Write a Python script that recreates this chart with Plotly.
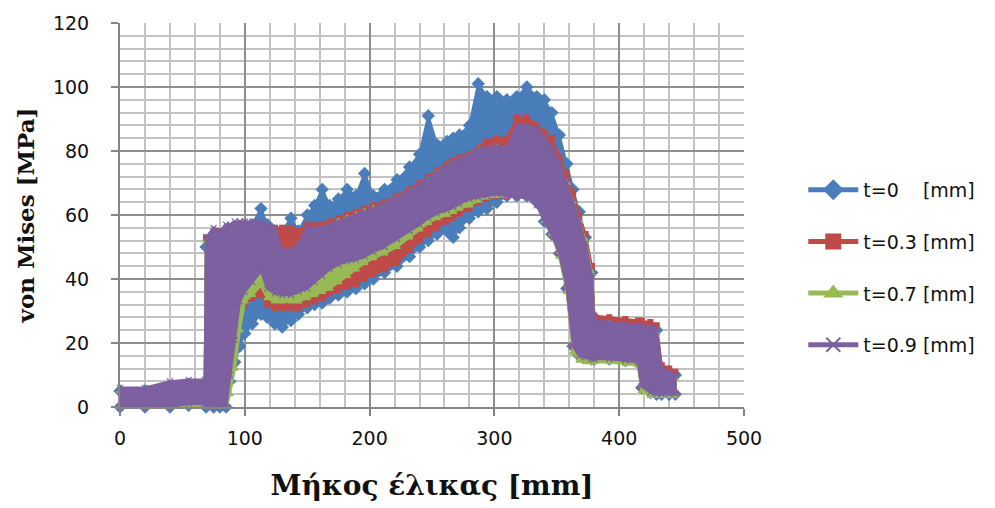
import plotly.graph_objects as go

# Position along the helix [mm] shared by every band outline
X_MM = [0, 20, 40, 55, 68, 69, 75, 80, 85, 88, 92, 96, 100, 106, 113, 118, 124, 130, 137, 143,
        150, 156, 162, 168, 175, 182, 189, 196, 203, 212, 222, 232, 240, 247, 254, 262, 267, 272,
        280, 287, 294, 302, 310, 318, 326, 334, 340, 346, 352, 358, 363, 368, 373, 378, 380, 392,
        405, 415, 418, 425, 430, 434, 440, 445]

# von Mises stress [MPa]: upper and lower envelope of each scatter band
T0_UPPER = [5, 5, 6, 7, 7, 50, 52, 53, 54, 55, 55, 56, 56, 57, 62, 57, 55, 55, 59, 55,
            60, 63, 68, 63, 65, 68, 66, 73, 66, 68, 71, 75, 79, 91, 82, 83, 84, 85,
            88, 101, 97, 97, 96, 97, 100, 97, 96, 92, 85, 76, 68, 61, 53, 42, 28, 27,
            26, 25, 25, 25, 24, 12, 11, 10]
T0_LOWER = [0, 0, 0, 0.5, 0.5, 0, 0, 0, 0, 8, 14, 19, 23, 26, 29, 28, 26, 25, 27, 29,
            31, 32, 32.5, 34, 35, 36, 37, 38.5, 40, 42, 44, 47, 50, 52, 54, 55, 53, 56,
            59, 61, 62, 64, 66, 66, 66, 64, 58, 54, 48, 37, 19, 16, 15.5, 15, 15, 15,
            14.5, 14, 6, 4.5, 4, 4, 4, 4]

T03_UPPER = [5, 5, 6, 7, 7, 53, 55, 55, 56, 56, 57, 57, 57, 57, 57, 56, 56, 56, 56, 55,
             57, 57, 57, 58, 59, 60, 61, 62, 63, 64, 66, 68, 70, 72, 74, 76, 77, 78,
             79, 81, 83, 84, 84, 90.5, 90.5, 88, 86, 84, 78, 73, 67, 60, 54, 44, 28.5, 28,
             27.5, 27, 27, 26.5, 25.5, 13, 12, 11]
T03_LOWER = [0, 0, 0, 0.5, 0.5, -1, -1, -1, -1, 8, 18, 28, 32, 34, 35, 32, 31, 31, 31, 31,
             32, 33, 34, 35.5, 36.5, 37.5, 38.5, 40, 41.5, 43, 45, 49, 52, 54, 56, 58, 59, 60.5,
             62, 64, 65, 66, 66, 66, 66, 64, 58, 54, 48, 37, 19, 16, 15.5, 15, 15, 15,
             14.5, 14, 6, 4.5, 4, 4, 4, 4]

T07_UPPER = [5, 5, 6, 7, 7, 52, 54, 54, 55, 55, 56, 56, 56, 56, 56, 55, 54, 48, 48, 50,
             54, 55, 55, 56, 58, 59, 60, 61, 62, 63, 65, 67, 69, 71, 73, 75, 76, 77,
             78, 80, 80, 81, 80, 86, 86, 85, 83, 79, 75, 70, 64, 58, 52, 42, 26, 26,
             25, 24, 24, 24, 23, 11, 10, 9]
T07_LOWER = [0, 0, 0, 0.5, 0.5, -1, -1, -1, -1, 4, 12, 24, 33, 35, 38, 34, 33, 33, 33, 33,
             34, 35, 36, 37, 39, 41, 43, 45, 46.5, 48, 50, 53, 55.5, 57.5, 59, 60, 61, 62,
             63, 64.5, 65.5, 66, 66, 66, 66, 64, 58, 54, 47, 36, 17, 14.5, 14, 14, 14, 14,
             13.5, 13, 5, 3.5, 3.5, 3.5, 3.5, 3.5]

T09_UPPER = [6, 6, 8, 8.5, 8.5, 53, 56, 55, 57, 57, 58, 58, 58, 58, 58, 57, 56, 49, 49, 51,
             56, 56, 56, 57, 58, 59, 60, 61, 62, 63.5, 65.5, 67.5, 69.5, 71.5, 73.5, 75.5, 76.5, 77.5,
             78.5, 80.5, 81, 81.5, 81, 88, 88, 87, 84.5, 81, 76, 70, 64, 58, 51, 41, 27, 26.5,
             26, 25.5, 25.5, 25, 24.5, 12, 11, 10]
T09_LOWER = [0, 0, 0, 1, 1, 0, 0, 0, 0, 10, 21, 33, 36, 39, 42.5, 37, 35.5, 35, 35, 36,
             37, 39, 41, 43, 44.5, 45.5, 46, 47, 48.5, 50, 52.5, 55, 57, 59, 60.5, 61.5, 62.5, 63.5,
             65, 65.5, 66, 66.5, 66, 65.5, 65.5, 63, 58, 54, 48, 37.5, 19, 16, 15.5, 15, 15, 15,
             14.5, 14, 6.5, 4.5, 4, 4, 4, 4]

LABELS = ["t=0\u00a0\u00a0\u00a0\u00a0[mm]", "t=0.3 [mm]", "t=0.7 [mm]", "t=0.9 [mm]"]
COLORS = ["#4a7ebb", "#be4b48", "#98b954", "#7d60a0"]
SYMBOLS = ["diamond", "square", "triangle-up", "x-thin"]
BAND_MARKER = [9, 5, 6, 6]
BANDS = [(T0_UPPER, T0_LOWER), (T03_UPPER, T03_LOWER),
         (T07_UPPER, T07_LOWER), (T09_UPPER, T09_LOWER)]

fig = go.Figure()

# Filled scatter bands, first series at the bottom
for (upper, lower), color, sym, msize in zip(BANDS, COLORS, SYMBOLS, BAND_MARKER):
    px = X_MM + X_MM[::-1]
    py = upper + lower[::-1]
    fig.add_trace(go.Scatter(
        x=px, y=py, mode="lines+markers", fill="toself", fillcolor=color,
        line=dict(color=color, width=2.5),
        marker=dict(symbol=sym, size=msize, color=color, line=dict(color=color, width=1.2)),
        cliponaxis=False, showlegend=False, hoverinfo="skip",
    ))

# Legend entries
for i, (name, color, sym) in enumerate(zip(LABELS, COLORS, SYMBOLS)):
    fig.add_trace(go.Scatter(
        x=[None], y=[None], mode="lines+markers", name=name, legendgroup=f"g{i}",
        line=dict(color=color, width=5),
        marker=dict(symbol=sym, size=14, color=color, line=dict(color=color, width=2)),
    ))

tick_font = dict(family="DejaVu Sans", size=19, color="#111111")

fig.update_layout(
    width=995, height=508,
    margin=dict(l=120, r=251, t=20, b=100),
    paper_bgcolor="white", plot_bgcolor="white",
    showlegend=True,
    legend=dict(
        x=1.095, xanchor="left", y=0.615, yanchor="top",
        font=dict(family="DejaVu Sans", size=19, color="#111111"),
        tracegroupgap=24, traceorder="grouped", itemwidth=50,
        bgcolor="rgba(0,0,0,0)",
    ),
    xaxis=dict(
        range=[0, 500], dtick=100, tick0=0,
        showgrid=True, gridcolor="#8e8e8e", gridwidth=2,
        minor=dict(dtick=20, showgrid=True, gridcolor="#c2c2c2", gridwidth=2,
                   ticks=""),
        showline=True, linecolor="#858585", linewidth=2,
        ticks="outside", ticklen=7, tickcolor="#858585", tickwidth=2,
        tickfont=tick_font, zeroline=False, ticklabelstandoff=6,
        title=dict(text="Μήκος έλικας [mm]",
                   font=dict(family="DejaVu Serif", size=28, color="#111111", weight="bold"),
                   standoff=28),
    ),
    yaxis=dict(
        range=[0, 120], dtick=20, tick0=0,
        showgrid=True, gridcolor="#8e8e8e", gridwidth=2,
        minor=dict(dtick=4, showgrid=True, gridcolor="#c2c2c2", gridwidth=2,
                   ticks=""),
        showline=True, linecolor="#858585", linewidth=2,
        ticks="outside", ticklen=7, tickcolor="#858585", tickwidth=2,
        tickfont=tick_font, zeroline=False, ticklabelstandoff=18,
        title=dict(text="von Mises [MPa]",
                   font=dict(family="DejaVu Serif", size=23, color="#111111", weight="bold"),
                   standoff=12),
    ),
)

fig.write_html("out.html")
